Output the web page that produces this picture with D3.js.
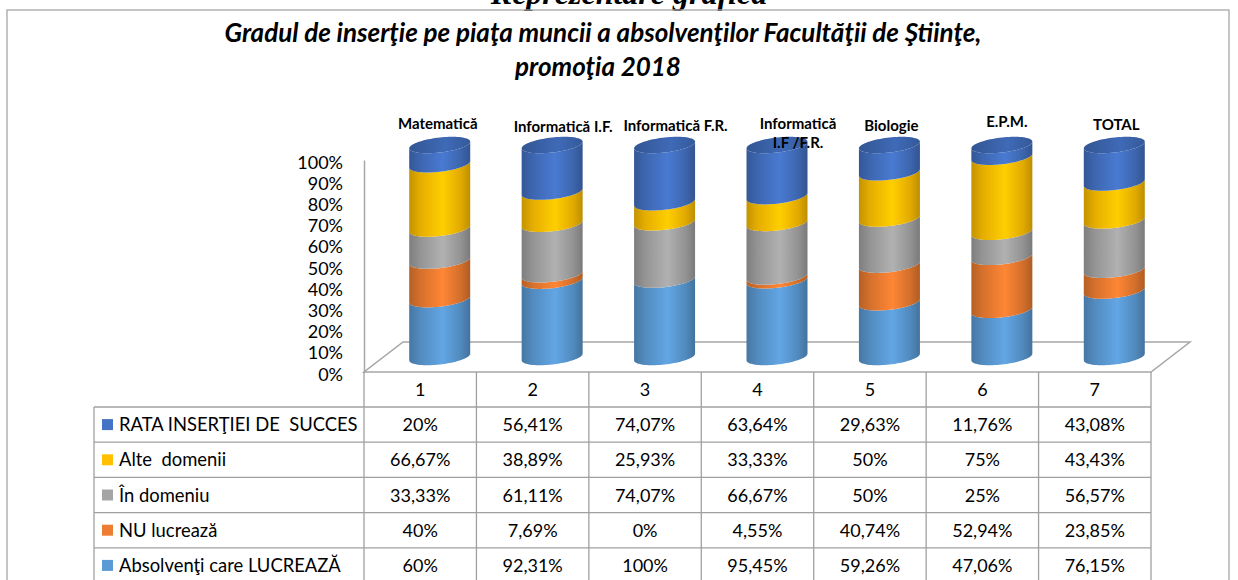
<!DOCTYPE html>
<html>
<head>
<meta charset="utf-8">
<script src="https://cdn.jsdelivr.net/npm/d3@7"></script>
<style>
  body { margin: 0; background: #fff; }
  svg { display: block; }
</style>
</head>
<body>
<svg id="chart" width="1238" height="580"></svg>
<script>
(function () {
  'use strict';

  // --- data ---
  var categories = ["Matematică", "Informatică I.F.", "Informatică F.R.", "Informatică\nI.F /F.R.", "Biologie", "E.P.M.", "TOTAL"];
  var columns = ["1", "2", "3", "4", "5", "6", "7"];
  var seriesNames = ["RATA INSERŢIEI DE  SUCCES", "Alte  domenii", "În domeniu", "NU lucrează", "Absolvenţi care LUCREAZĂ"];
  var rata       = [20, 56.41, 74.07, 63.64, 29.63, 11.76, 43.08];
  var alte       = [66.67, 38.89, 25.93, 33.33, 50, 75, 43.43];
  var inDomeniu  = [33.33, 61.11, 74.07, 66.67, 50, 25, 56.57];
  var nuLucreaza = [40, 7.69, 0, 4.55, 40.74, 52.94, 23.85];
  var lucreaza   = [60, 92.31, 100, 95.45, 59.26, 47.06, 76.15];
  var percentTicks = [0, 0.1, 0.2, 0.3, 0.4, 0.5, 0.6, 0.7, 0.8, 0.9, 1];

  var series = [rata, alte, inDomeniu, nuLucreaza, lucreaza];
  var colors = ["#4472C4", "#FFC000", "#A5A5A5", "#ED7D31", "#5B9BD5"];

  // label nudges (layout only)
  var labelNudge = [[-2, 124], [11, 127], [11, 126], [21, 124], [2, 126], [5, 122], [2, 125]];

  var svg = d3.select("#chart");
  var font = "Lato, 'Open Sans', sans-serif";

  var left = 364, right = 1151, floorY = 372, topY = 160;
  var depthX = 39, depthY = -30;
  var headerBottom = 407, rowH = 35.2, tableLeft = 94;

  var x = d3.scaleBand().domain(d3.range(columns.length)).range([left, right]);
  var yFront = d3.scaleLinear().domain([0, 1]).range([floorY, topY]);
  var yCyl = d3.scaleLinear().domain([0, 1]).range([floorY + depthY / 2, topY + depthY / 2]);

  // outer frame + cut-off heading
  svg.append("text")
    .attr("x", 629).attr("y", 4)
    .attr("text-anchor", "middle")
    .style("font-family", "'Liberation Serif', serif")
    .style("font-weight", "bold").style("font-style", "italic")
    .style("font-size", "32px")
    .text("Reprezentare grafică");

  svg.append("rect")
    .attr("x", 7).attr("y", 10).attr("width", 1222).attr("height", 600)
    .attr("fill", "none").attr("stroke", "#a6a6a6").attr("stroke-width", 1.3);

  var title = svg.append("text")
    .attr("text-anchor", "middle")
    .style("font-family", font).style("font-weight", "bold").style("font-style", "italic")
    .style("font-size", "26px");
  title.append("tspan").attr("x", 603).attr("y", 42).text("Gradul de inserţie pe piaţa muncii a absolvenţilor Facultăţii de Ştiinţe,");
  title.append("tspan").attr("x", 598).attr("y", 76).text("promoţia 2018");

  // gradients
  var defs = svg.append("defs");
  colors.forEach(function (c, k) {
    var g = defs.append("linearGradient").attr("id", "g" + k)
      .attr("x1", 0).attr("x2", 1).attr("y1", 0).attr("y2", 0);
    var base = d3.color(c);
    [[0, base.darker(0.75)], [0.18, base.darker(0.3)], [0.55, base.brighter(0.2)], [0.85, base.darker(0.35)], [1, base.darker(0.85)]]
      .forEach(function (s) { g.append("stop").attr("offset", s[0]).attr("stop-color", s[1]); });
  });
  var capG = defs.append("linearGradient").attr("id", "cap")
    .attr("x1", 0).attr("x2", 1).attr("y1", 0).attr("y2", 0);
  [[0, d3.color(colors[0]).darker(0.8)], [0.6, d3.color(colors[0]).darker(0.2)], [1, d3.color(colors[0]).darker(0.7)]]
    .forEach(function (s) { capG.append("stop").attr("offset", s[0]).attr("stop-color", s[1]); });

  // floor and axis
  svg.append("path")
    .attr("d", "M" + left + "," + floorY + "L" + right + "," + floorY +
      "L" + (right + depthX) + "," + (floorY + depthY) + "L" + (left + depthX) + "," + (floorY + depthY) + "Z")
    .attr("fill", "none").attr("stroke", "#a6a6a6").attr("stroke-width", 1.5);

  var yAxis = svg.append("g")
    .attr("transform", "translate(" + left + ",0)")
    .call(d3.axisLeft(yFront).tickValues(percentTicks).tickFormat(d3.format(".0%"))
      .tickSize(0).tickSizeOuter(0).tickPadding(21));
  yAxis.select(".domain").attr("stroke", "#a6a6a6").attr("stroke-width", 1.5);
  yAxis.selectAll("text")
    .attr("dy", "0.45em")
    .style("font-family", font).style("font-size", "18px").attr("fill", "#000");

  // stacked cylinders (100%)
  var rows = columns.map(function (c, i) {
    var o = {};
    seriesNames.forEach(function (n, k) { o[n] = series[k][i]; });
    return o;
  });
  var bottomUp = seriesNames.slice().reverse();
  var layers = d3.stack().keys(bottomUp).offset(d3.stackOffsetExpand)(rows);

  var rx = 30.5, ry = 7.5, shear = 0.11;
  var line = d3.line();
  function arcPts(cx, yc, t0, t1, n) {
    var pts = [];
    for (var j = 0; j <= n; j++) {
      var t = t0 + (t1 - t0) * j / n;
      var dx = rx * Math.cos(t);
      pts.push([cx + dx, yc + ry * Math.sin(t) - shear * dx]);
    }
    return pts;
  }
  function segPath(cx, y0, y1) {
    var pts = [[cx - rx, y1 + shear * rx], [cx - rx, y0 + shear * rx]];
    pts = pts.concat(arcPts(cx, y0, Math.PI, 0, 40));
    pts.push([cx + rx, y1 - shear * rx]);
    pts = pts.concat(arcPts(cx, y1, 0, Math.PI, 40));
    return line(pts) + "Z";
  }

  var cyl = svg.append("g");
  columns.forEach(function (c, i) {
    var cx = x(i) + x.bandwidth() / 2 + depthX / 2;
    layers.forEach(function (layer) {
      var k = seriesNames.indexOf(layer.key);
      var d = layer[i];
      if (d[1] - d[0] <= 0) return;
      cyl.append("path")
        .attr("d", segPath(cx, yCyl(d[0]), yCyl(d[1])))
        .attr("fill", "url(#g" + k + ")");
    });
    cyl.append("path")
      .attr("d", line(arcPts(cx, yCyl(1), 0, 2 * Math.PI, 80)) + "Z")
      .attr("fill", "url(#cap)");
  });

  // category labels
  categories.forEach(function (name, i) {
    var cx = x(i) + x.bandwidth() / 2 + depthX / 2 + labelNudge[i][0];
    var t = svg.append("text")
      .attr("text-anchor", "middle")
      .style("font-family", font).style("font-weight", "bold").style("font-size", "15px");
    name.split("\n").forEach(function (part, j) {
      t.append("tspan").attr("x", cx).attr("y", labelNudge[i][1] + 5 + j * 19).text(part);
    });
  });

  // data table
  var grid = svg.append("g").attr("stroke", "#a0a0a0").attr("stroke-width", 1.3);
  var tableBottom = headerBottom + rowH * seriesNames.length;
  x.domain().concat([columns.length]).forEach(function (i) {
    var xx = i < columns.length ? x(i) : right;
    grid.append("line").attr("x1", xx).attr("x2", xx).attr("y1", floorY).attr("y2", tableBottom);
  });
  grid.append("line").attr("x1", tableLeft).attr("x2", tableLeft).attr("y1", headerBottom).attr("y2", tableBottom);
  d3.range(seriesNames.length + 1).forEach(function (r) {
    var yy = headerBottom + r * rowH;
    grid.append("line").attr("x1", tableLeft).attr("x2", right).attr("y1", yy).attr("y2", yy);
  });

  columns.forEach(function (c, i) {
    svg.append("text")
      .attr("x", x(i) + x.bandwidth() / 2).attr("y", (floorY + headerBottom) / 2 + 6.5)
      .attr("text-anchor", "middle")
      .style("font-family", font).style("font-size", "18px")
      .text(c);
  });

  function fmt(v) {
    return (Number.isInteger(v) ? String(v) : v.toFixed(2).replace(".", ",")) + "%";
  }

  seriesNames.forEach(function (name, k) {
    var yMid = headerBottom + k * rowH + rowH / 2;
    svg.append("rect")
      .attr("x", 102).attr("y", yMid - 5.5).attr("width", 11).attr("height", 11)
      .attr("fill", colors[k]);
    svg.append("text")
      .attr("x", 119).attr("y", yMid + 6.5)
      .style("font-family", font).style("font-size", "18.4px").style("white-space", "pre")
      .text(name);
    series[k].forEach(function (v, i) {
      svg.append("text")
        .attr("x", x(i) + x.bandwidth() / 2).attr("y", yMid + 6.5)
        .attr("text-anchor", "middle")
        .style("font-family", font).style("font-size", "18px")
        .text(fmt(v));
    });
  });
})();
</script>
</body>
</html>
